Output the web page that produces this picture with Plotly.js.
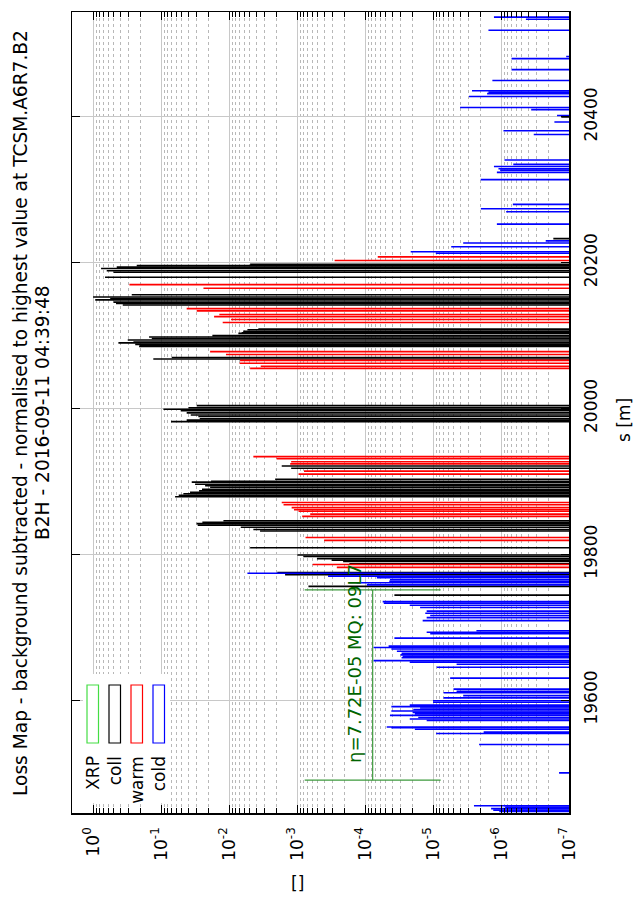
<!DOCTYPE html>
<html>
<head>
<meta charset="utf-8">
<script src="https://cdn.plot.ly/plotly-3.0.1.min.js"></script>
<style>html,body{margin:0;padding:0;background:#fff;}#chart{width:635px;height:899px;}</style>
</head>
<body>
<div id="chart"></div>
<script>
// ---------- data ----------
const collS = [20400,20233,20198,20196,20194,20192,20189,20187,20180,
  20156,20153,20151,20149,20146,20144,20142,
  20109,20108,20106,20104,20103,20100,20098,20096,20094,20091,20090,20088,20086,20085,
  20070,20068,
  20004,20001,19999,19997,19994,19991,19989,19986,19984,19982,
  19921,19918,19903,19900,19899,19896,19894,19892,19889,19887,19885,19883,19881,19879,
  19846,19844,19842,19840,19837,19834,19832,19809,
  19799,19797,19794,19792,19790,19787,19775,19772,19756,19744];
const collV = [1.3e-7,1.7e-7,4.9e-3,0.228,0.449,0.763,0.63,0.5,0.667,
  0.27,1.0,0.56,0.93,0.5,0.46,0.366,
  3.71e-3,5.37e-3,6.2e-3,6.52e-3,7.3e-3,0.0176,0.15,0.137,0.309,0.255,0.424,0.24,0.208,0.21,
  0.0697,0.13,
  0.0299,0.0396,0.0924,0.0514,0.042,0.0366,0.0283,0.027,0.042,0.0713,
  1.68e-3,1.22e-3,2.1e-3,0.0184,0.0354,0.0316,0.0225,0.019,0.025,0.0276,0.0375,0.047,0.055,0.0622,
  0.0121,0.0247,0.03,0.0289,6.73e-3,4.39e-3,3.5e-3,4.9e-3,
  9.9e-4,8.1e-4,5.1e-4,3.1e-4,2.1e-4,1.7e-4,1.95e-3,1.5e-3,6.8e-4,3.7e-5];

const warmS = [20208,20203,20170,20165,20137,20134,20129,20126,20122,20118,
  20078,20074,20066,20062,20058,20055,
  19934,19931,19927,19924,19914,19910,19871,19868,19864,19861,19859,19855,19852,
  19823,19819,19786,19782];
const warmV = [6.5e-5,2.8e-4,0.292,0.0238,0.042,0.0299,0.0139,0.0166,9.35e-3,0.0124,
  0.019,0.0111,6.89e-3,7.0e-3,3.42e-3,4.9e-3,
  4.39e-3,2.0e-3,1.22e-3,1.26e-3,7.9e-4,9.5e-4,1.68e-3,1.58e-3,1.2e-3,1.11e-3,9.5e-4,6.4e-4,8.4e-4,
  7.5e-4,4.0e-4,5.9e-4,2.6e-4];

const coldS = [20537,20534,20519,20483,20480,20465,20450,20436,20434,20432,20428,20413,20410,20402,20393,20381,20376,
  20341,20335,20332,20329,20327,20324,20314,20280,20274,20270,20253,20230,20227,20222,20215,20213,
  19774,19770,19768,19765,19763,19761,19758,19735,19733,19730,19727,19722,19719,19716,19713,19709,
  19695,19693,19691,19685,19674,19672,19670,19667,19664,19662,19660,19658,19654,19652,19649,19645,
  19630,19615,19612,19610,19606,19603,19599,19597,19593,19591,19589,19587,19585,19583,19581,19579,
  19576,19574,19572,19563,19562,19560,19556,19554,19539,19500,19455,19453,19451,19449,19447];
const coldV = [1.27e-6,4.3e-7,1.53e-6,1.1e-7,7.0e-7,7.0e-7,1.34e-6,2.67e-6,1.53e-6,1.6e-6,2.96e-6,4.0e-6,3.6e-7,1.5e-7,1.64e-7,9.2e-7,3.3e-7,
  8.9e-7,6.6e-7,1.27e-6,1.09e-6,1.03e-6,1.15e-6,1.99e-6,6.7e-7,1.98e-6,8.4e-7,1.15e-6,2.2e-7,3.6e-6,5.4e-6,2.13e-5,9.1e-6,
  5.37e-3,3.5e-4,6.7e-5,4.3e-5,4.4e-5,1.33e-4,9.4e-5,5.5e-5,5.3e-5,2.2e-5,1.55e-5,1.24e-5,1.3e-5,1.1e-5,1.24e-5,1.42e-5,
  2.3e-6,1.24e-5,1.1e-5,3.7e-5,4.5e-5,7.5e-5,4.1e-5,3.4e-5,2.9e-5,3.0e-5,2.8e-5,2.9e-5,7.5e-5,2.2e-5,4.5e-6,8.8e-6,
  5.6e-6,5.0e-6,4.5e-6,7.0e-6,3.6e-6,7.0e-6,1.0e-5,1.0e-5,2.2e-5,4.1e-5,1.55e-5,1.95e-5,4.1e-5,2.0e-5,1.85e-5,4.3e-5,
  1.65e-5,2.2e-5,1.24e-5,4.8e-5,4.1e-5,1.85e-5,1.8e-6,9.0e-6,2.1e-6,1.4e-7,2.5e-6,8.7e-7,1.4e-6,1.3e-6,1.06e-6];

const etaValue = 7.72e-5;
const etaSRange = [19490, 19751];
const etaSpread = 10;
const etaLabel = "η=7.72E-05 MQ: 09L7";

const xTickVals = [1,1e-1,1e-2,1e-3,1e-4,1e-5,1e-6,1e-7];
const xTickText = ['10<sup>0</sup>','10<sup>-1</sup>','10<sup>-2</sup>','10<sup>-3</sup>','10<sup>-4</sup>','10<sup>-5</sup>','10<sup>-6</sup>','10<sup>-7</sup>'];
const sTicks = [19600,19800,20000,20200,20400];
const legendNames = ['XRP','coll','warm','cold'];
const legendColors = ['#44dd44','#000000','#ff0000','#0000ff'];
const titleLines = ['Loss Map - background subtracted - normalised to highest value at TCSM.A6R7.B2','B2H - 2016-09-11 04:39:48'];

// ---------- build ----------
const BASE = 1e-9;
function segs(S, V){
  const x=[], y=[];
  for(let i=0;i<S.length;i++){ x.push(BASE, V[i], null); y.push(S[i], S[i], null); }
  return {x, y};
}
const FONT = 'DejaVu Sans, sans-serif';
const traces = [];
[[collS,collV,'#000000'],[warmS,warmV,'#ff0000'],[coldS,coldV,'#0000ff']].forEach(([S,V,c])=>{
  const d = segs(S,V);
  traces.push({type:'scatter', mode:'lines', x:d.x, y:d.y, line:{color:c, width:1.6}, hoverinfo:'skip', showlegend:false});
});
// eta marker
traces.push({type:'scatter', mode:'lines', hoverinfo:'skip', showlegend:false,
  x:[etaValue, etaValue, null, etaValue*etaSpread, etaValue/etaSpread, null, etaValue*etaSpread, etaValue/etaSpread],
  y:[etaSRange[0], etaSRange[1], null, etaSRange[0], etaSRange[0], null, etaSRange[1], etaSRange[1]],
  line:{color:'#3c9a3c', width:1.2}});

const minorVals = [];
for(let e=-8;e<=0;e++){ for(let m=2;m<=9;m++){ minorVals.push(m*Math.pow(10,e)); } }

// geometry helpers (pixel -> paper)
const PX0=72, PX1=569, PY0=12, PY1=813;
const px = v => (v-PX0)/(PX1-PX0);
const py = v => (PY1-v)/(PY1-PY0);

const shapes = [];
const annotations = [];
// legend background
shapes.push({type:'rect', xref:'paper', yref:'paper', x0:px(83), x1:px(170), y0:py(803), y1:py(674), fillcolor:'#ffffff', line:{width:0}, layer:'above'});
const legX = [87,109,131,153];
legendNames.forEach((n,i)=>{
  shapes.push({type:'rect', xref:'paper', yref:'paper', x0:px(legX[i]), x1:px(legX[i]+11.5), y0:py(743), y1:py(685),
    line:{color:legendColors[i], width:1.2}, fillcolor:'rgba(0,0,0,0)', layer:'above'});
  annotations.push({xref:'paper', yref:'paper', x:px(legX[i]+5.8), y:py(754), xanchor:'center', yanchor:'top',
    text:n, textangle:-90, showarrow:false, font:{family:FONT, size:17, color:'#000'}});
});
// titles
annotations.push({xref:'paper', yref:'paper', x:px(20), y:py(413), xanchor:'center', yanchor:'middle', text:titleLines[0], textangle:-90, showarrow:false, font:{family:FONT, size:18.6, color:'#000'}});
annotations.push({xref:'paper', yref:'paper', x:px(42), y:py(413), xanchor:'center', yanchor:'middle', text:titleLines[1], textangle:-90, showarrow:false, font:{family:FONT, size:18.6, color:'#000'}});
annotations.push({xref:'paper', yref:'paper', x:px(624), y:py(420), xanchor:'center', yanchor:'middle', text:'s [m]', textangle:-90, showarrow:false, font:{family:FONT, size:17, color:'#000'}});
annotations.push({xref:'paper', yref:'paper', x:px(297), y:py(883), xanchor:'center', yanchor:'middle', text:'[]', showarrow:false, font:{family:FONT, size:17, color:'#000'}});
annotations.push({xref:'paper', yref:'paper', x:px(354), y:py(664), xanchor:'center', yanchor:'middle', text:etaLabel, textangle:-90, showarrow:false, font:{family:FONT, size:18, color:'#006400'}});

const layout = {
  width:635, height:899,
  margin:{l:PX0, r:635-PX1, t:PY0, b:899-PY1},
  paper_bgcolor:'#fff', plot_bgcolor:'#fff',
  showlegend:false,
  xaxis:{type:'log', range:[0.31,-7], tickmode:'array', tickvals:xTickVals, ticktext:xTickText,
    tickangle:-90, ticks:'inside', ticklen:8, tickwidth:1, tickcolor:'#000',
    showline:true, linecolor:'#000', linewidth:1.5, mirror:'ticks',
    showgrid:true, gridcolor:'#c8c8c8', gridwidth:1, zeroline:false,
    tickfont:{family:FONT, size:17, color:'#000'}, ticklabelstandoff:6,
    minor:{tickmode:'array', tickvals:minorVals, ticks:'inside', ticklen:5, tickcolor:'#000', showgrid:true, griddash:'dot', gridcolor:'#b8b8b8', gridwidth:1}},
  yaxis:{range:[19445,20544], side:'right', tickmode:'array', tickvals:sTicks, tickformat:'d',
    tickangle:-90, ticks:'inside', ticklen:8, tickcolor:'#000',
    showline:true, linecolor:'#000', linewidth:1.5, mirror:'ticks',
    showgrid:true, gridcolor:'#c8c8c8', gridwidth:1, zeroline:false,
    tickfont:{family:FONT, size:17, color:'#000'}, ticklabelstandoff:6},
  shapes, annotations
};
Plotly.newPlot('chart', traces, layout, {staticPlot:true, displayModeBar:false});
</script>
</body>
</html>
